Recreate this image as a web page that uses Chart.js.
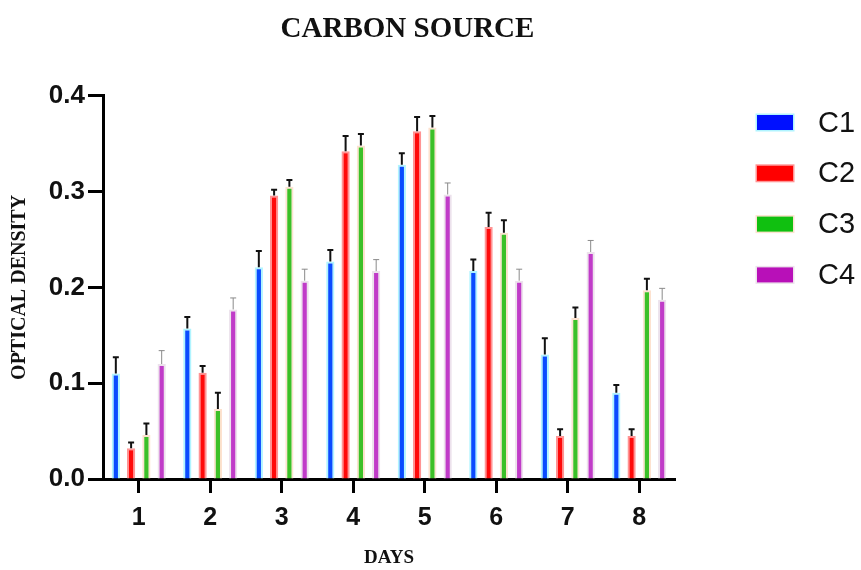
<!DOCTYPE html>
<html>
<head>
<meta charset="utf-8">
<script src="https://cdn.jsdelivr.net/npm/chart.js@4"></script>
<style>
html,body{margin:0;padding:0;background:#fff;}
#wrap{width:861px;height:570px;}
</style>
</head>
<body>
<div id="wrap"><canvas id="c" width="861" height="570"></canvas></div>
<script>
const days = ['1','2','3','4','5','6','7','8'];
const seriesNames = ['C1','C2','C3','C4'];
const C1 = [0.110, 0.157, 0.221, 0.227, 0.328, 0.217, 0.130, 0.090];
const C2 = [0.032, 0.111, 0.296, 0.342, 0.363, 0.263, 0.045, 0.045];
const C3 = [0.046, 0.073, 0.305, 0.348, 0.367, 0.257, 0.168, 0.197];
const C4 = [0.120, 0.177, 0.207, 0.217, 0.297, 0.207, 0.237, 0.187];
const C1err = [0.017, 0.012, 0.017, 0.012, 0.012, 0.012, 0.017, 0.008];
const C2err = [0.006, 0.007, 0.006, 0.016, 0.015, 0.015, 0.007, 0.007];
const C3err = [0.012, 0.017, 0.007, 0.012, 0.012, 0.013, 0.011, 0.012];
const C4err = [0.014, 0.012, 0.012, 0.012, 0.012, 0.012, 0.012, 0.012];
const yTicks = [0.0, 0.1, 0.2, 0.3, 0.4];

const fills = ['#0a4cff', '#ff0a0a', '#3cc028', '#c03cc8'];
const borders = ['#b0f4ff', '#ff9494', '#fde2cf', '#ece2ec'];
const legendFills = ['#0010ff', '#ff0000', '#10c010', '#b810b8'];
const errColors = ['#111', '#111', '#111', '#8a8a8a'];
const errWidths = [2, 2, 2, 1];

const values = [C1, C2, C3, C4];
const errs = [C1err, C2err, C3err, C4err];

const datasets = seriesNames.map((n, i) => ({
  label: n,
  data: values[i],
  errors: errs[i],
  backgroundColor: fills[i],
  borderColor: borders[i],
  borderWidth: 2,
  borderSkipped: 'bottom',
  barPercentage: 0.54,
  categoryPercentage: 0.855
}));

const errorBars = {
  id: 'errorBars',
  afterDatasetsDraw(chart) {
    const ctx = chart.ctx;
    const ys = chart.scales.y;
    chart.data.datasets.forEach((ds, i) => {
      const meta = chart.getDatasetMeta(i);
      meta.data.forEach((bar, j) => {
        const v = ds.data[j], e = ds.errors[j];
        const yTop = ys.getPixelForValue(v + e);
        const yBase = ys.getPixelForValue(v);
        ctx.save();
        ctx.strokeStyle = errColors[i];
        ctx.lineWidth = errWidths[i];
        ctx.beginPath();
        ctx.moveTo(bar.x, yBase);
        ctx.lineTo(bar.x, yTop);
        ctx.moveTo(bar.x - 3, yTop);
        ctx.lineTo(bar.x + 3, yTop);
        ctx.stroke();
        ctx.restore();
      });
    });
  }
};

const customLegend = {
  id: 'customLegend',
  afterDraw(chart) {
    const ctx = chart.ctx;
    const bx = 757, bw = 36, bh = 15;
    const y0 = 122.5, dy = 50.8;
    chart.data.datasets.forEach((ds, i) => {
      const cy = y0 + dy * i;
      ctx.save();
      ctx.fillStyle = ds.borderColor;
      ctx.fillRect(bx - 1.5, cy - bh / 2 - 1.5, bw + 3, bh + 3);
      ctx.fillStyle = legendFills[i];
      ctx.fillRect(bx, cy - bh / 2, bw, bh);
      ctx.fillStyle = '#111';
      ctx.font = '29px "Liberation Sans", Arial, sans-serif';
      ctx.textBaseline = 'middle';
      ctx.textAlign = 'left';
      ctx.fillText(ds.label, 818, cy + 1);
      ctx.restore();
    });
  }
};

new Chart(document.getElementById('c'), {
  type: 'bar',
  data: { labels: days, datasets },
  plugins: [errorBars, customLegend],
  options: {
    responsive: false,
    animation: false,
    layout: { padding: { left: 0, right: 46, top: 0, bottom: 0 } },
    plugins: {
      legend: { display: false },
      tooltip: { enabled: false },
      title: {
        display: true,
        text: 'CARBON SOURCE',
        color: '#111',
        font: { family: '"Liberation Serif", "Times New Roman", serif', size: 29, weight: 'bold' },
        padding: { top: 12, bottom: 49 }
      }
    },
    scales: {
      x: {
        offset: true,
        grid: { display: true, drawOnChartArea: false, offset: false, tickLength: 14, tickWidth: 3, tickColor: '#000' },
        border: { display: true, color: '#000', width: 3 },
        ticks: { color: '#111', padding: 10, font: { family: '"Liberation Sans", Arial, sans-serif', size: 25, weight: 'bold' } },
        title: {
          display: true, text: 'DAYS', color: '#111',
          font: { family: '"Liberation Serif", "Times New Roman", serif', size: 19, weight: 'bold' },
          padding: { top: 0, bottom: 1 }
        },
        afterFit(s) { s.height = 91; }
      },
      y: {
        min: 0, max: 0.4,
        afterBuildTicks(s) { s.ticks = yTicks.map(v => ({ value: v })); },
        grid: { display: true, drawOnChartArea: false, tickLength: 15, tickWidth: 3, tickColor: '#000' },
        border: { display: true, color: '#000', width: 3 },
        ticks: {
          color: '#111', padding: 3,
          font: { family: '"Liberation Sans", Arial, sans-serif', size: 26, weight: 'bold' },
          callback: v => Number(v).toFixed(1)
        },
        title: {
          display: true, text: 'OPTICAL DENSITY', color: '#111',
          font: { family: '"Liberation Serif", "Times New Roman", serif', size: 20, weight: 'bold' },
          padding: { top: 8, bottom: 0 }
        },
        afterFit(s) { s.width = 103; }
      },
      yR: {
        position: 'right',
        display: true,
        min: 0, max: 1,
        grid: { display: false },
        border: { display: false },
        ticks: { display: false },
        afterFit(s) { s.width = 140; }
      }
    }
  }
});
</script>
</body>
</html>
